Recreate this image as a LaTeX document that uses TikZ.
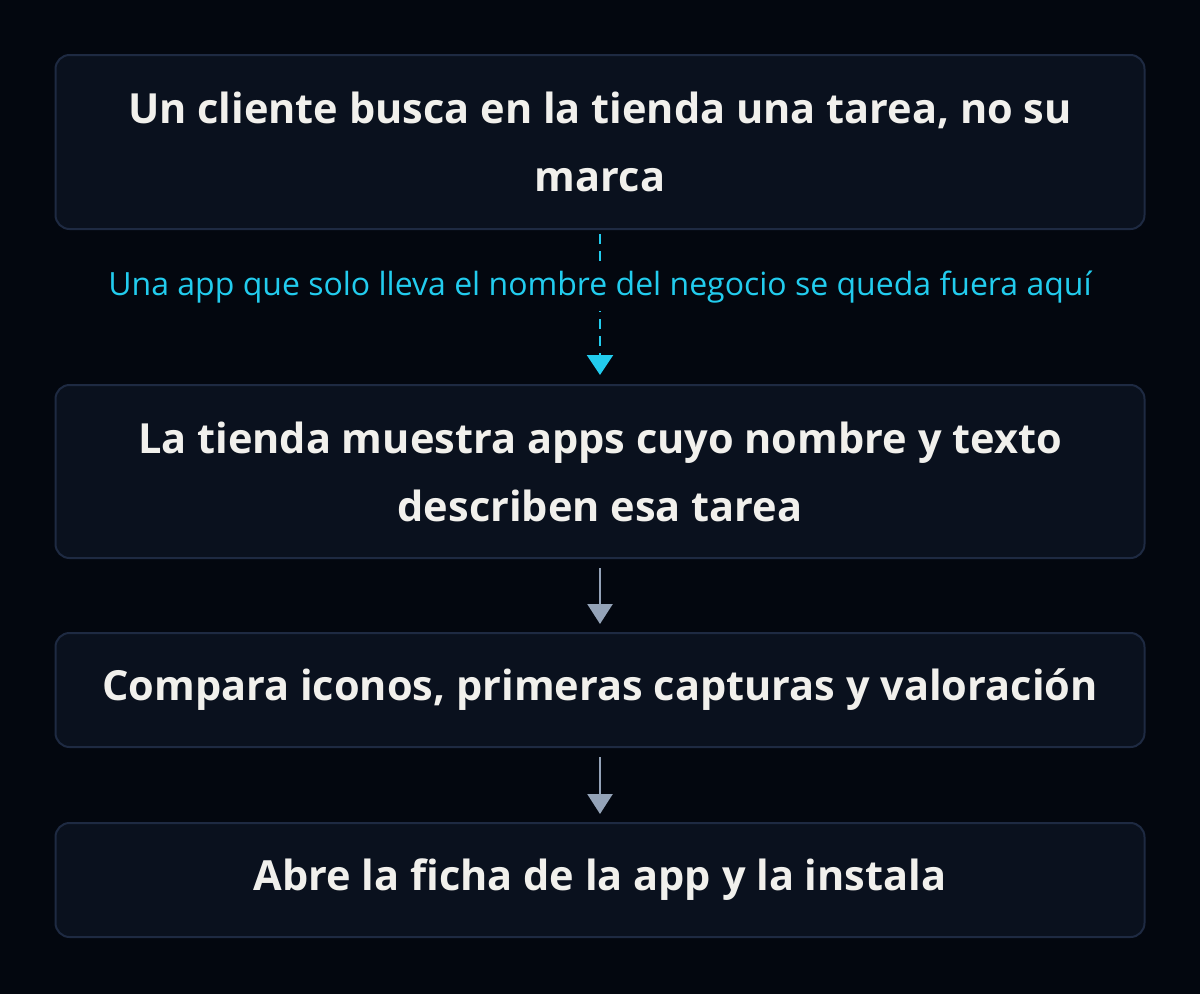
\documentclass[tikz,border=0pt]{standalone}
\usepackage{fontspec}
\setmainfont{Open Sans}
\usepackage{xcolor}
\definecolor{bgcol}{HTML}{03070F}
\definecolor{boxfill}{HTML}{0A111E}
\definecolor{boxline}{HTML}{1E2A42}
\definecolor{txtcol}{HTML}{F1F0EC}
\definecolor{cyan}{HTML}{22CCEE}
\definecolor{grey}{HTML}{94A3B8}
\usetikzlibrary{arrows.meta,positioning}
\tikzset{
    stepbox/.style = {draw=boxline, line width=2pt, fill=boxfill, rounded corners=14pt,
      minimum width=1089pt, text=txtcol, align=center,
      font=\fontsize{41.5}{68}\selectfont\bfseries},
    flow/.style = {draw=grey, line width=2.5pt, -{Triangle[width=25pt,length=20pt]},
      shorten <=9pt, shorten >=8pt},
    warn/.style = {draw=cyan, line width=2.5pt, dash pattern=on 10pt off 7pt,
      -{Triangle[width=26pt,length=20pt]}, shorten <=4pt, shorten >=9pt}
}
\begin{document}
\begin{tikzpicture}[x=1pt,y=-1pt]
\fill[bgcol] (0,0) rectangle (1200,994);
\useasboundingbox (0,0) rectangle (1200,994);

\node[stepbox, minimum height=174pt] (search) at (600,142) {Un cliente busca en la tienda una tarea, no su\\marca};
\node[stepbox, minimum height=173pt] (results) at (600,471.5) {La tienda muestra apps cuyo nombre y texto\\describen esa tarea};
\node[stepbox, minimum height=114pt] (compare) at (600,690) {Compara iconos, primeras capturas y valoración};
\node[stepbox, minimum height=114pt] (install) at (600,880) {Abre la ficha de la app y la instala};

\draw[warn] (search) -- node[pos=0.37, fill=bgcol, text=cyan, inner xsep=2pt, inner ysep=8pt,
  font=\fontsize{32}{34}\selectfont] (warnlabel) {Una app que solo lleva el nombre del negocio se queda fuera aquí} (results);
\draw[flow] (results) -- (compare);
\draw[flow] (compare) -- (install);
\end{tikzpicture}
\end{document}
